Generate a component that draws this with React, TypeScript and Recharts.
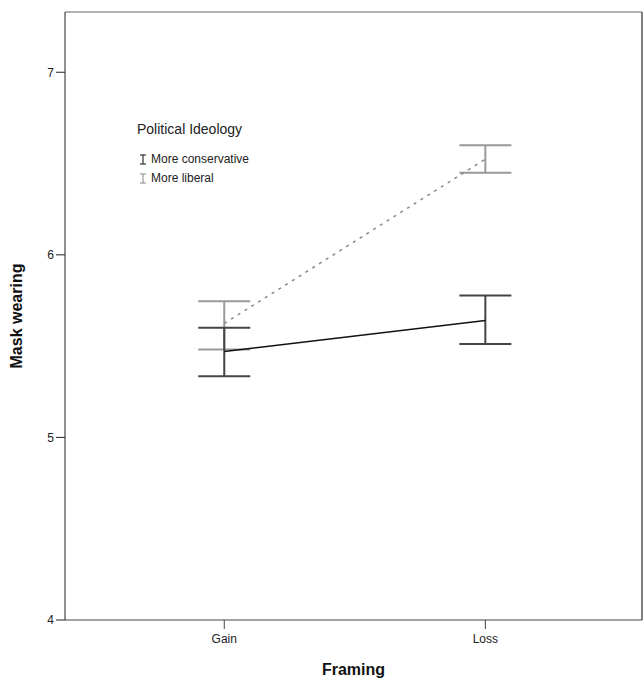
import React from 'react'
import {
  ComposedChart,
  Line,
  ErrorBar,
  XAxis,
  YAxis,
  ReferenceLine,
} from 'recharts'

// framing conditions, placed at x = 1, 2
const categories = ['Gain', 'Loss']
const categoryPos = [1, 2]

// estimated marginal means and 95% CI bounds
const conservativeMean = [5.47, 5.64]
const conservativeLow = [5.335, 5.512]
const conservativeHigh = [5.6, 5.777]

const liberalMean = [5.624, 6.524]
const liberalLow = [5.481, 6.45]
const liberalHigh = [5.746, 6.6]

const yTicks = [4, 5, 6, 7]
const yMax = 7.33
const xDomain: [number, number] = [0.39, 2.6]

const data = categories.map((name, i) => ({
  name,
  x: categoryPos[i],
  conservative: conservativeMean[i],
  conservativeErr: [conservativeMean[i] - conservativeLow[i], conservativeHigh[i] - conservativeMean[i]],
  liberal: liberalMean[i],
  liberalErr: [liberalMean[i] - liberalLow[i], liberalHigh[i] - liberalMean[i]],
}))

const FONT = '"Liberation Sans", Arial, sans-serif'

const IBeam = ({ color }: { color: string }) => (
  <svg width={8} height={11} style={{ marginRight: 4, verticalAlign: 'middle' }}>
    <line x1={1} y1={1} x2={7} y2={1} stroke={color} strokeWidth={1.2} />
    <line x1={4} y1={1} x2={4} y2={10} stroke={color} strokeWidth={1.2} />
    <line x1={1} y1={10} x2={7} y2={10} stroke={color} strokeWidth={1.2} />
  </svg>
)

const LegendBox = () => (
  <div style={{ position: 'absolute', left: 137, top: 121, fontFamily: FONT, color: '#222' }}>
    <div style={{ fontSize: 14, lineHeight: '17px', marginBottom: 12 }}>Political Ideology</div>
    <div style={{ fontSize: 12, lineHeight: '19px', marginLeft: 2 }}>
      <IBeam color="#333" />
      More conservative
    </div>
    <div style={{ fontSize: 12, lineHeight: '19px', marginLeft: 2 }}>
      <IBeam color="#999" />
      More liberal
    </div>
  </div>
)

export default function App() {
  return (
    <div style={{ position: 'absolute', left: 0, top: 0, width: 644, height: 683, background: '#fff' }}>
      <ComposedChart
        width={644}
        height={683}
        data={data}
        margin={{ top: 12, right: 2, bottom: 0, left: 0 }}
      >
        <XAxis
          dataKey="x"
          type="number"
          domain={xDomain}
          ticks={categoryPos}
          tickFormatter={(v) => categories[categoryPos.indexOf(v)] ?? ''}
          height={63}
          stroke="#444"
          tickSize={9}
          tick={{ fill: '#222', fontSize: 12, fontFamily: FONT, dy: 3 }}
          label={({ viewBox }: any) => (
            <text
              x={viewBox.x + viewBox.width / 2}
              y={viewBox.y + 55}
              textAnchor="middle"
              fontFamily={FONT}
              fontWeight="bold"
              fontSize={16}
              fill="#111"
            >
              Framing
            </text>
          )}
        />
        <YAxis
          type="number"
          domain={[4, yMax]}
          ticks={yTicks}
          allowDataOverflow
          width={65}
          stroke="#222"
          tickSize={9}
          tick={{ fill: '#222', fontSize: 12, fontFamily: FONT }}
          label={({ viewBox }: any) => (
            <text
              x={22}
              y={viewBox.y + viewBox.height / 2}
              transform={`rotate(-90, 22, ${viewBox.y + viewBox.height / 2})`}
              textAnchor="middle"
              fontFamily={FONT}
              fontWeight="bold"
              fontSize={16}
              fill="#111"
            >
              Mask wearing
            </text>
          )}
        />
        <ReferenceLine y={yMax} stroke="#999" strokeWidth={1.5} />
        <ReferenceLine x={xDomain[1]} stroke="#555" strokeWidth={1.5} />

        <Line
          type="linear"
          dataKey="liberal"
          stroke="#888"
          strokeWidth={1.5}
          strokeDasharray="3 5"
          dot={false}
          activeDot={false}
          isAnimationActive={false}
        >
          <ErrorBar dataKey="liberalErr" width={26} stroke="#999" strokeWidth={2} direction="y" />
        </Line>
        <Line
          type="linear"
          dataKey="conservative"
          stroke="#111"
          strokeWidth={1.5}
          dot={false}
          activeDot={false}
          isAnimationActive={false}
        >
          <ErrorBar dataKey="conservativeErr" width={26} stroke="#444" strokeWidth={2} direction="y" />
        </Line>
      </ComposedChart>
      <LegendBox />
    </div>
  )
}
